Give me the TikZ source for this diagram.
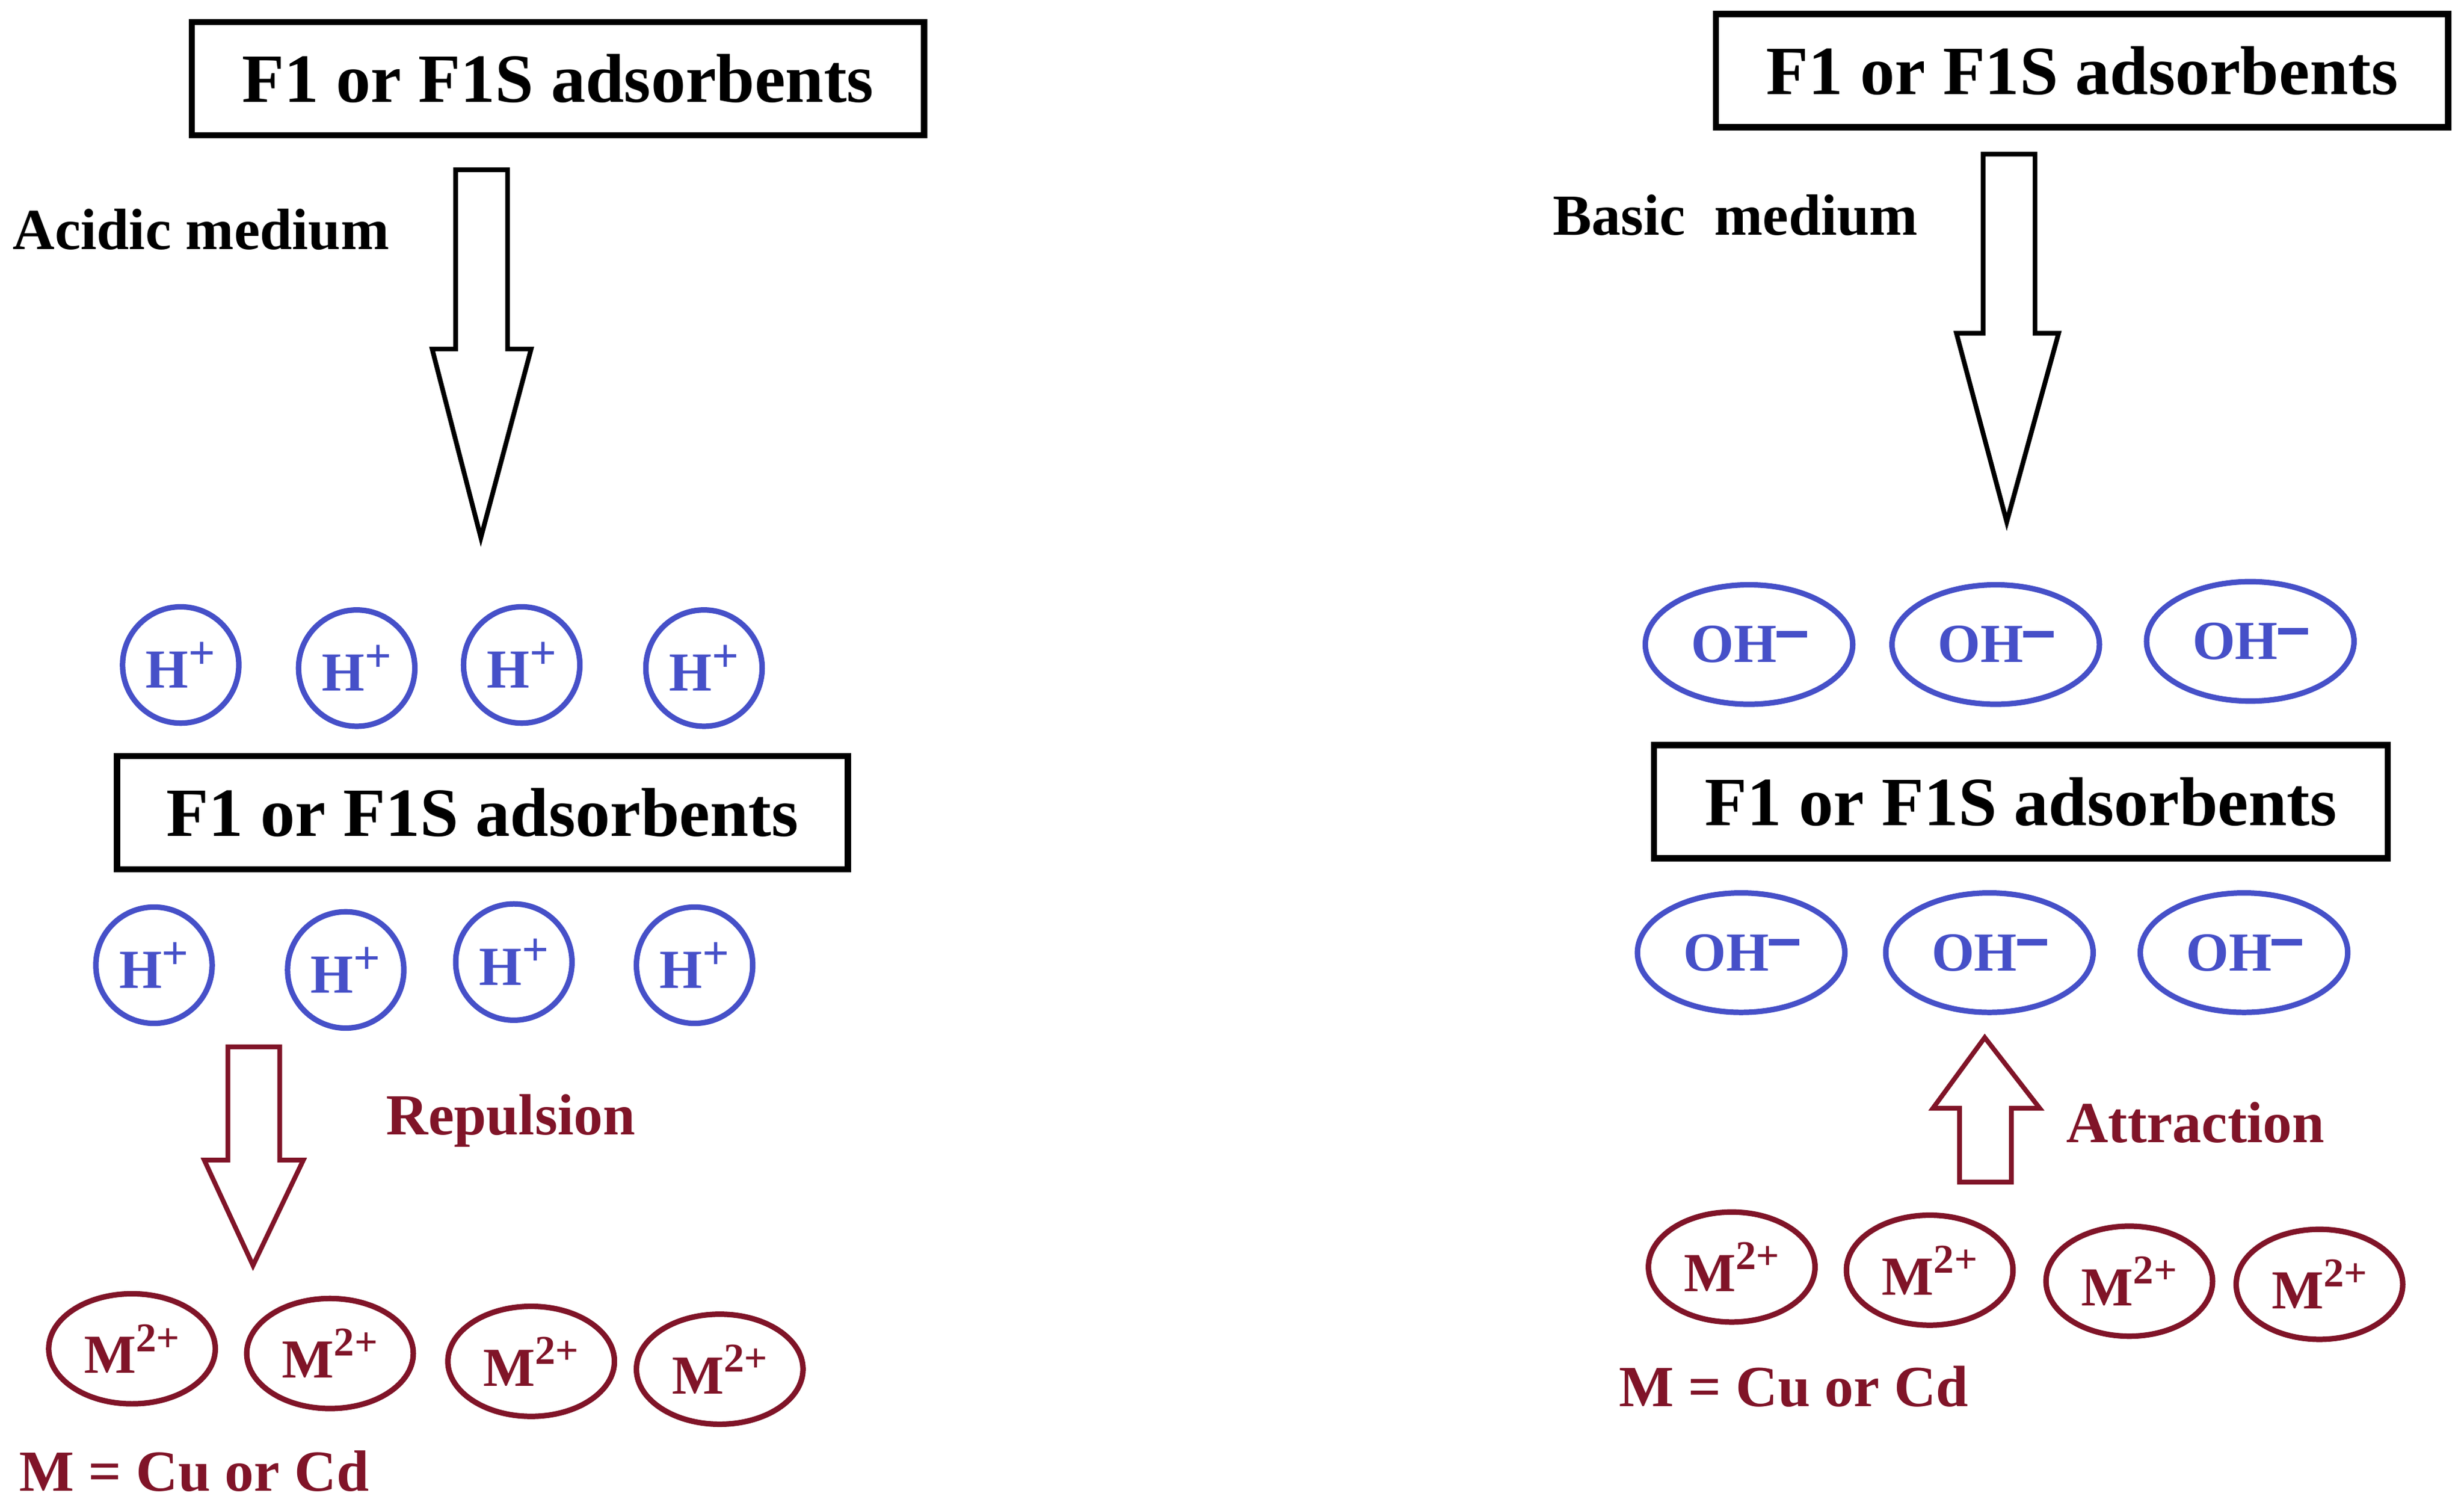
\documentclass[tikz,border=0pt]{standalone}
\usetikzlibrary{shapes.geometric}
\usepackage{fontspec}
\setmainfont{Liberation Serif}
\definecolor{ionblue}{RGB}{70,80,200}
\definecolor{dred}{RGB}{128,20,40}
\begin{document}
\begin{tikzpicture}[x=1pt,y=-1pt,
 box/.style={draw,line width=4pt,minimum width=#1,minimum height=72pt,inner sep=0pt,font=\fontsize{44}{48}\selectfont\bfseries},
 lbl/.style={font=\fontsize{37}{40}\selectfont\bfseries,inner sep=0pt},
 hion/.style={draw=ionblue,text=ionblue,line width=3.5pt,circle,minimum size=74pt,inner sep=0pt,font=\fontsize{35}{38}\selectfont\bfseries},
 ohion/.style={draw=ionblue,text=ionblue,line width=3.5pt,ellipse,minimum width=132pt,minimum height=76pt,inner sep=0pt,font=\fontsize{35}{38}\selectfont\bfseries},
 mion/.style={draw=dred,text=dred,line width=3.5pt,ellipse,minimum width=106pt,minimum height=70pt,inner sep=0pt,font=\fontsize{35}{38}\selectfont\bfseries},
 harrow/.style={draw=#1,line width=3pt,line join=miter,fill=white}]
\useasboundingbox (0,0) rectangle (1568,959);
\newcommand{\Hp}{H\raisebox{0.35em}{\fontsize{30}{30}\selectfont +}}
\newcommand{\OHm}{OH\raisebox{0.45em}{\rule{0.55em}{0.12em}}}
\newcommand{\Mtp}{M\raisebox{0.4em}{\fontsize{26}{26}\selectfont 2+}}
% left
\node[box=466pt] (lt) at (355,50) {F1 or F1S adsorbents};
\node[lbl,anchor=west] (acid) at (8,146) {Acidic medium};
\draw[harrow=black] (290,108) -- (323,108) -- (323,222) -- (338,222) -- (306,342) -- (275,222) -- (290,222) -- cycle;
\foreach \x/\y [count=\i] in {115/423,227/425,332/423,448/425} \node[hion] (ha\i) at (\x,\y) {\Hp};
\node[box=465pt] (lm) at (307,517) {F1 or F1S adsorbents};
\foreach \x/\y [count=\i] in {98/614,220/617,327/612,442/614} \node[hion] (hb\i) at (\x,\y) {\Hp};
\draw[harrow=dred] (145,666) -- (178,666) -- (178,738) -- (193,738) -- (161,805) -- (130,738) -- (145,738) -- cycle;
\node[lbl,text=dred] (rep) at (325,713) {Repulsion};
\foreach \x/\y [count=\i] in {84/858,210/861,338/866,458/871} \node[mion] (ma\i) at (\x,\y) {\Mtp};
\node[lbl,text=dred,anchor=west] (eqa) at (12,936) {M = Cu or Cd};
% right
\node[box=466pt] (rt) at (1325,45) {F1 or F1S adsorbents};
\node[lbl,anchor=west] (basic) at (988,137) {Basic\ \ medium};
\draw[harrow=black] (1262,98) -- (1295,98) -- (1295,212) -- (1310,212) -- (1277,332) -- (1245,212) -- (1262,212) -- cycle;
\foreach \x/\y [count=\i] in {1113/410,1270/410,1432/408} \node[ohion] (oa\i) at (\x,\y) {\OHm};
\node[box=467pt] (rm) at (1286,510) {F1 or F1S adsorbents};
\foreach \x/\y [count=\i] in {1108/606,1266/606,1428/606} \node[ohion] (ob\i) at (\x,\y) {\OHm};
\draw[harrow=dred] (1263,660) -- (1298,705) -- (1280,705) -- (1280,752) -- (1247,752) -- (1247,705) -- (1230,705) -- cycle;
\node[lbl,text=dred] (att) at (1397,714) {Attraction};
\foreach \x/\y [count=\i] in {1102/806,1228/808,1355/815,1476/817} \node[mion] (mb\i) at (\x,\y) {\Mtp};
\node[lbl,text=dred,anchor=west] (eqb) at (1030,882) {M = Cu or Cd};
\end{tikzpicture}
\end{document}
